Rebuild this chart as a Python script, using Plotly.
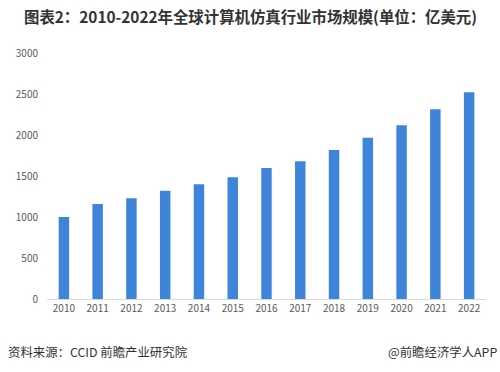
import plotly.graph_objects as go

years = ["2010", "2011", "2012", "2013", "2014", "2015", "2016", "2017", "2018", "2019", "2020", "2021", "2022"]
values = [1000, 1160, 1228, 1320, 1400, 1484, 1597, 1680, 1817, 1967, 2118, 2313, 2520]
y_ticks = [0, 500, 1000, 1500, 2000, 2500, 3000]

title_text = "图表2：2010-2022年全球计算机仿真行业市场规模(单位：亿美元)"
source_text = "资料来源：CCID 前瞻产业研究院"
credit_text = "@前瞻经济学人APP"

FONT = "Noto Sans CJK SC"

W, H = 500, 372
ml, mr, mt, mb = 47, 14, 53, 73
pw, ph = W - ml - mr, H - mt - mb


def px(x):
    return (x - ml) / pw


def py(y):
    return (H - mb - y) / ph


fig = go.Figure()
fig.add_trace(go.Bar(
    x=years, y=values,
    marker=dict(color="#3F84DB", line=dict(width=0)),
))

fig.update_layout(
    width=W, height=H,
    paper_bgcolor="white", plot_bgcolor="white",
    margin=dict(l=ml, r=mr, t=mt, b=mb),
    bargap=0.69,
    showlegend=False,
    font=dict(family=FONT, color="#595959"),
    xaxis=dict(
        type="category",
        showline=True, linecolor="#D9D9D9", linewidth=1,
        ticks="", showgrid=False,
        tickfont=dict(size=10, color="#595959"),
    ),
    yaxis=dict(
        range=[0, 3000],
        tickvals=y_ticks,
        showgrid=False, zeroline=False, showline=False,
        ticks="", ticklabelstandoff=8,
        tickfont=dict(size=10, color="#595959"),
    ),
    annotations=[
        dict(text="<b>" + title_text + "</b>", x=px(250), y=py(16), xref="paper", yref="paper",
             xanchor="center", yanchor="middle", showarrow=False,
             font=dict(size=15.4, color="#333333", family=FONT)),
        dict(text=source_text, x=px(6), y=py(352), xref="paper", yref="paper", showarrow=False,
             xanchor="left", yanchor="middle", font=dict(size=12.4, color="#333333", family=FONT)),
        dict(text=credit_text, x=px(499), y=py(352), xref="paper", yref="paper", showarrow=False,
             xanchor="right", yanchor="middle", font=dict(size=12.4, color="#333333", family=FONT)),
    ],
)

fig.write_html("out.html", config={"displayModeBar": False},
               post_script="document.body.style.margin='0';document.body.style.padding='0';")
